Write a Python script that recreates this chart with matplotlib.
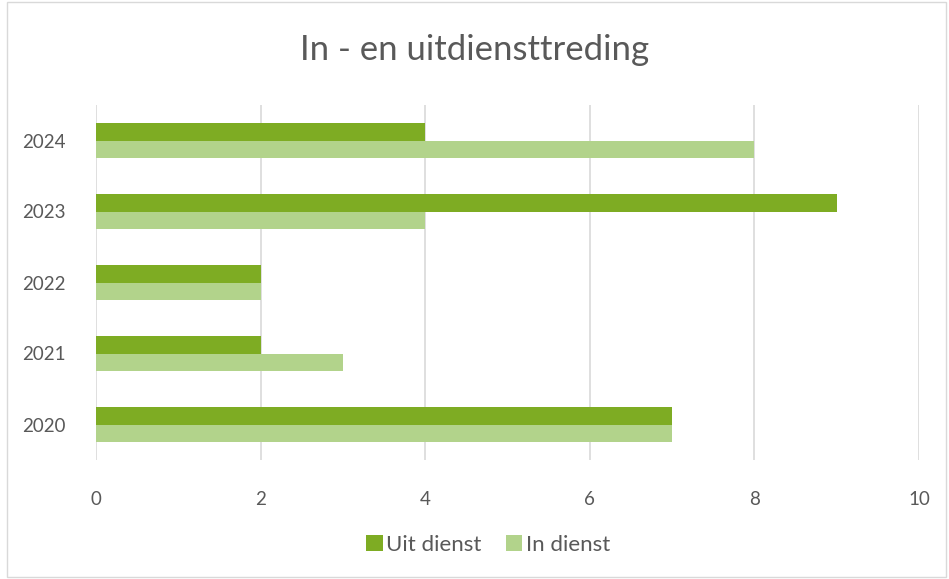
import matplotlib
matplotlib.use("Agg")
import matplotlib.pyplot as plt
from matplotlib.patches import Rectangle
import numpy as np

plt.rcParams.update({"font.family": ["Lato", "DejaVu Sans"]})

years = ["2020", "2021", "2022", "2023", "2024"]
uit_dienst = [7, 2, 2, 9, 4]
in_dienst = [7, 3, 2, 4, 8]
xticks = [0, 2, 4, 6, 8, 10]

c_uit = "#7EAC23"
c_in = "#B2D38B"
txt = "#595959"

fig = plt.figure(figsize=(9.49, 5.79), dpi=100)
ax = fig.add_axes([96/949, 1 - 460/579, 823/949, 355/579])

y = np.arange(len(years))
h = 0.25
ax.barh(y + h/2, uit_dienst, height=h, color=c_uit, label="Uit dienst", zorder=3)
ax.barh(y - h/2, in_dienst, height=h, color=c_in, label="In dienst", zorder=3)

ax.set_ylim(-0.5, 4.5)
ax.set_xlim(0, 10)
ax.set_yticks(y)
ax.set_yticklabels(years)
ax.set_xticks(xticks)
ax.set_xticklabels([str(v) for v in xticks])
ax.grid(axis="x", color="#D9D9D9", linewidth=1.2, zorder=0)
for s in ax.spines.values():
    s.set_visible(False)
ax.tick_params(axis="both", length=0, labelsize=13.5, colors=txt)
ax.tick_params(axis="x", pad=22)
ax.tick_params(axis="y", pad=22)

fig.text(0.5, 1 - 50/579, "In - en uitdiensttreding", ha="center", va="center",
         fontsize=25, color=txt)

fig.legend(loc="center", bbox_to_anchor=(488/949, 1 - 545/579), ncol=2, frameon=False,
           fontsize=16, labelcolor=txt, handlelength=0.75, handleheight=0.75,
           handletextpad=0.15, columnspacing=1.1)

fig.patches.append(Rectangle((7/949, 2/579), 939/949, 575/579, transform=fig.transFigure,
                             fill=False, edgecolor="#D9D9D9", linewidth=1))

fig.savefig("out.png", dpi=100)
